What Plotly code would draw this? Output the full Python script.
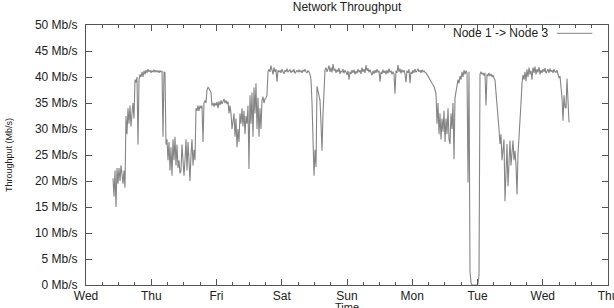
import plotly.graph_objects as go

# ---- data: throughput (Mb/s) sampled roughly every 22 minutes; time in hours since Wed 00:00
STEP_H = 0.3678
seg_wed_start_h = 9.93
seg_wed = [20.5, 17, 22, 15, 22.5, 19.5, 22.5, 20, 23, 21, 19.5, 22, 18.7]
seg_wed2_start_h = 14.71
seg_wed2 = [32.5, 29, 34, 31, 34.5, 30.5, 33, 35, 32, 39.5, 39, 40]
seg_thu_start_h = 19.13
seg_thu = [27, 39.5, 40.5, 40, 41, 40, 41.2, 40.5, 41.3, 40.8, 41.5, 41, 41.3, 40.8, 41.2,
           41, 41.4, 40.9, 41.3, 41, 41.2, 40.8, 41.2, 41, 41.1]
seg_thu2_start_h = 28.32
seg_thu2 = [28.5, 41, 40.8, 27, 28, 24, 27.5, 22, 26.5, 21, 28, 24, 28.5, 23, 27, 22.5, 24,
            21.5, 22, 27, 23, 21, 24, 28, 22, 27.5, 24, 20, 25, 28, 23, 26, 24]
seg_fri_start_h = 40.46
seg_fri = [34, 33.5, 34.5, 33.5, 34.5, 34, 34.5, 27.5, 35, 35.5, 35, 37.5, 38, 37.8, 37.5,
           37, 34.5, 35, 34.3, 35, 34.5, 35.2, 34, 35.3, 34.6, 35.5, 34.8, 35.5, 35.8, 35,
           35.5, 34.8, 35.3, 33, 34.5, 33, 30, 31.5, 33, 28.5]
seg_fri2_start_h = 55.17
seg_fri2 = [32, 26.5, 30, 27.5, 33, 31, 34, 30.5, 33.5, 29, 32.5, 31, 34.5, 22.3, 36.5, 31,
            37, 28.5, 38, 33, 38.8, 30, 36, 28.5, 34, 30, 35.5, 36.2, 35, 35.8, 36, 36.5]
seg_sat_start_h = 66.94
seg_sat = [41, 41.5, 41, 42.2, 41.5, 40.5, 41.8, 41, 41.5, 39.1, 41.3, 41, 41.2, 40.8, 41.5,
           41, 40.6, 41.3, 41, 41.6, 40.9, 41.2, 41.4, 40.8, 41.2, 41, 41.5, 40.7, 41.2, 41.3,
           40.9, 41.4, 41, 41.2, 40.8, 41.3, 41.1, 41.5, 41, 40.8, 41.2, 41, 40.5, 39.5]
seg_sat2_start_h = 83.13
seg_sat2 = [35, 29, 21, 26, 22.7, 38.2, 37, 36, 35.5, 31, 25.8, 33, 38, 41.3, 41.8, 41]
seg_sun_start_h = 89.01
seg_sun = [41.5, 42.2, 41, 41.8, 40.9, 42.5, 41.2, 41.6, 40.8, 41.4, 41, 41.7, 40.6, 41.2,
           40.9, 41.5, 40.7, 41.3, 41, 40.4, 41.2, 39.5, 41, 40.6, 41.3, 40.8, 41.4, 40.5,
           41.1, 40.7, 41.5, 40.9, 41.3, 40.6, 41.8, 41, 41.5, 40.8, 42.3, 41.2, 41.7, 40.9,
           41.4, 41, 40.3, 41.2, 40.6, 41.3, 40.8, 41.5, 40.9, 41.2, 39.1, 41, 40.6, 41.4,
           40.8, 41.2, 40.5, 41.3, 40.7, 41.6, 40.9, 41.2, 40.5, 41, 40.6, 36.8, 41.2, 40.8,
           42.3, 41, 41.6, 40.7, 41.4, 40.9, 41.3, 40.6, 39, 41.2, 40.8, 41.5, 38.8, 41, 40.6,
           41.3, 40.8, 41.5, 40.9, 41.2, 41.6, 41, 41.3, 40.8, 41.4, 41, 41.2, 40.9]
seg_mon_start_h = 125.06
seg_mon = [40.8, 40.5, 40.1, 39.8, 39.5, 39.1, 38.8, 38.5, 38.2, 37.5, 36.8, 31, 35, 29, 33,
           28, 32, 29.5, 33.5, 27.5, 32, 29, 34, 28, 27.1, 33, 30, 35, 24.2, 36, 37.5, 38.5,
           39.5, 38.8, 40.2, 39.5, 41, 40, 41.3, 40.5, 41.2, 40.8, 19.7, 41, 2.6, 0.5]
seg_outage_start_h = 141.98
seg_outage = [0, 0, 0, 0, 0, 0, 0.3, 1.9]
seg_tue_start_h = 144.92
seg_tue = [40.5, 41, 40.5, 40.8, 40.3, 40.8, 34.5, 40.5, 40.2, 40.8, 40.2, 40.6, 40, 40.4,
           39.8, 39.4, 37, 35, 32.9, 30, 27.1, 29, 24, 25.8, 28, 16.1, 24, 27.1, 19, 26, 27.8,
           23, 25.2, 27.8, 24, 25.8, 23, 17.4, 25.2, 28, 31.6, 35, 38.8, 40.4, 39.5, 41, 39.2,
           41.5, 40, 41.8, 40.5, 41.2, 39.5, 41.8, 40.8, 42, 40.5, 41.5, 40.9, 41.9, 40.5,
           41.3, 40.8, 41.5, 41, 41.7, 40.7, 41.2, 41.5, 40.8, 41.6, 41, 41.3, 40.8, 41.5, 41,
           40.9, 41.3, 40.5, 39.8, 40.2, 38.1, 36, 31.6, 36.5, 34.2, 34, 39.7, 33, 31.3]

day_labels = ["Wed", "Thu", "Fri", "Sat", "Sun", "Mon", "Tue", "Wed", "Thu"]
day_hours = [24 * i for i in range(len(day_labels))]
y_ticks = [0, 5, 10, 15, 20, 25, 30, 35, 40, 45, 50]
y_labels = [f"{v} Mb/s" for v in y_ticks]
series_name = "Node 1 -> Node 3"

segments = [
    (seg_wed_start_h, seg_wed), (seg_wed2_start_h, seg_wed2), (seg_thu_start_h, seg_thu),
    (seg_thu2_start_h, seg_thu2), (seg_fri_start_h, seg_fri), (seg_fri2_start_h, seg_fri2),
    (seg_sat_start_h, seg_sat), (seg_sat2_start_h, seg_sat2), (seg_sun_start_h, seg_sun),
    (seg_mon_start_h, seg_mon), (seg_outage_start_h, seg_outage), (seg_tue_start_h, seg_tue),
]
times, values = [], []
for start, vals in segments:
    for i, v in enumerate(vals):
        times.append(start + i * STEP_H)
        values.append(v)

FONT = "Liberation Sans, Arial, sans-serif"
LINE_COLOR = "#858585"
AXIS_COLOR = "#555"

fig = go.Figure()
fig.add_trace(go.Scatter(x=times, y=values, mode="lines", name=series_name,
                         line=dict(color=LINE_COLOR, width=1.1), showlegend=False))

fig.update_layout(
    width=614, height=308,
    margin=dict(l=86, r=6, t=25, b=23, autoexpand=False),
    paper_bgcolor="white", plot_bgcolor="white",
    font=dict(family=FONT, size=12, color="#222"),
    title=dict(text="Network Throughput", x=0.5, xanchor="center", y=1.0, yanchor="top",
               xref="paper", pad=dict(t=3), font=dict(size=12, family=FONT, color="#222")),
)
fig.update_xaxes(
    range=[0, 192], tickvals=day_hours, ticktext=day_labels,
    showline=True, linecolor=AXIS_COLOR, linewidth=1, mirror="ticks",
    ticks="inside", ticklen=6, tickcolor=AXIS_COLOR,
    minor=dict(dtick=6, tick0=0, ticks="inside", ticklen=3, tickcolor=AXIS_COLOR),
    showgrid=False, zeroline=False, automargin=False,
    tickfont=dict(size=12), ticklabeloverflow="allow", ticklabelstandoff=0,
)
fig.update_yaxes(
    range=[0, 50], tickvals=y_ticks, ticktext=y_labels,
    showline=True, linecolor=AXIS_COLOR, linewidth=1, mirror="ticks",
    ticks="inside", ticklen=6, tickcolor=AXIS_COLOR,
    showgrid=False, zeroline=False, automargin=False,
    title=dict(text="Throughput (Mb/s)", standoff=20, font=dict(size=9)),
    tickfont=dict(size=12), ticklabelstandoff=5,
)
# x-axis title, placed just under the day labels
fig.add_annotation(xref="paper", yref="paper", x=0.5, y=0, xanchor="center", yanchor="top",
                   yshift=-15, borderpad=0, text="Time", showarrow=False,
                   font=dict(size=11, color="#222"))
# gnuplot-style key: text to the left of the line sample
fig.add_annotation(xref="paper", yref="paper", x=0.889, y=0.968, xanchor="right", yanchor="middle",
                   text=series_name, showarrow=False, font=dict(size=12, color="#222"))
fig.add_shape(type="line", xref="paper", yref="paper", x0=0.902, x1=0.97, y0=0.968, y1=0.968,
              line=dict(color=LINE_COLOR, width=1))

fig.write_html("out.html", config={"displayModeBar": False},
               post_script="document.body.style.margin='0';")
